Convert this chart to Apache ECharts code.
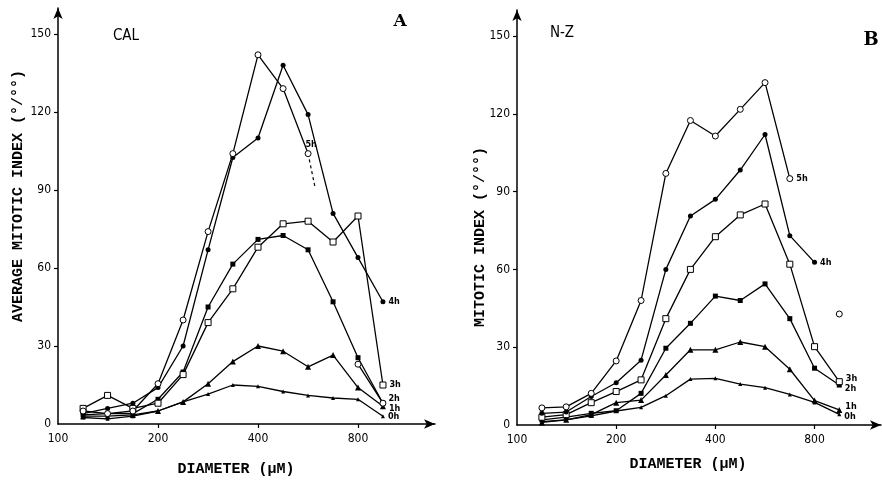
<!DOCTYPE html>
<html>
<head>
<meta charset="utf-8">
<script src="https://cdn.jsdelivr.net/npm/echarts@6/dist/echarts.min.js"></script>
<style>html,body{margin:0;padding:0;background:#fff}#c{width:882px;height:485px}</style>
</head>
<body>
<div id="c"></div>
<script>
// Diameters (µm) of the measured size classes (quarter-doubling steps)
const diameters = [119, 141, 168, 200, 238, 283, 336, 400, 476, 566, 673, 800, 951];
const xTickLabels = [100, 200, 400, 800];
const yTickLabels = [0, 30, 60, 90, 120, 150];

// Panel A : CAL
const calH0 = [2.5, 2, 3, 5, 8.5, 11.5, 15, 14.5, 12.5, 11, 10, 9.5, 3];
const calH1 = [3, 3, 3.5, 5, 8.5, 15.5, 24, 30, 28, 22, 26.5, 14, 6.8];
const calH2 = [3.5, 4, 4, 9.5, 20, 45, 61.5, 71, 72.5, 67, 47, 25.5, 8];
const calH3 = [6, 11, 6, 8, 19, 39, 52, 68, 77, 78, 70, 80, 15];
const calH4 = [4, 6, 8, 14, 30, 67, 102.5, 110, 138, 119, 81, 64, 47];
const calH5 = [5, 4, 5, 15.5, 40, 74, 104, 142, 129, 104, null, 23, 8];
const calH5DashX = [566, 594];
const calH5DashY = [104, 91];

// Panel B : N-Z
const nzH0 = [1.3, 2, 3.5, 5.4, 6.8, 11.3, 17.7, 18, 15.8, 14.4, 11.8, 8.7, 4.1];
const nzH1 = [1, 2, 4, 8.6, 9.6, 19.3, 29, 29, 32, 30.2, 21.5, 9.4, 5.8];
const nzH2 = [2, 3, 4.5, 5.5, 12.2, 29.6, 39.2, 49.7, 48, 54.4, 41, 21.9, 15.4];
const nzH3 = [3, 4, 8.6, 12.9, 17.4, 41, 60, 72.6, 81, 85.2, 62, 30.2, 16.7];
const nzH4 = [4.5, 5, 11, 16.3, 25, 60, 80.6, 87, 98.3, 112, 73, 62.7, null];
const nzH5 = [6.6, 7, 12.2, 24.7, 48, 97, 117.4, 111.4, 121.7, 132, 95, null, 42.8];

const lx = d => Math.log2(d / 100);
const tickFont = "'DejaVu Sans Condensed','Liberation Sans Narrow','Liberation Sans',sans-serif";
const monoFont = "'Liberation Mono','DejaVu Sans Mono',monospace";

function mk(name, gi, vals, symbol, size, lbl) {
  const empty = symbol.indexOf('empty') === 0;
  const data = vals.map((v, i) => {
    const item = { value: [lx(diameters[i]), v == null ? '-' : v] };
    if (lbl && i === lbl.index) {
      item.label = {
        show: true, formatter: name, position: lbl.pos || 'right', distance: 3,
        offset: lbl.offset || [0, 0], color: '#000',
        fontFamily: "'DejaVu Sans Condensed','Liberation Sans Narrow',sans-serif",
        fontWeight: 'bold', fontSize: 9
      };
    }
    return item;
  });
  return {
    type: 'line', name: name, xAxisIndex: gi, yAxisIndex: gi, data: data,
    symbol: empty ? symbol.replace('empty', '').toLowerCase() : symbol,
    symbolSize: size, showAllSymbol: true, connectNulls: false,
    lineStyle: { color: '#000', width: 1.3 },
    itemStyle: empty ? { color: '#fff', borderColor: '#000', borderWidth: 1 } : { color: '#000' },
    label: { show: false }, silent: true, z: 3
  };
}

function xAxis(gi, max) {
  const ticks = xTickLabels.map(lx);
  return {
    type: 'value', gridIndex: gi, min: 0, max: max,
    splitLine: { show: false },
    axisLine: { show: true, onZero: false, symbol: ['none', 'arrow'], symbolSize: [7, 11], lineStyle: { color: '#000', width: 1.5 } },
    axisTick: { show: true, customValues: ticks.slice(1), length: 4, lineStyle: { color: '#000', width: 1.2 } },
    axisLabel: { customValues: ticks, formatter: v => String(Math.round(100 * Math.pow(2, v))), color: '#000', fontFamily: tickFont, fontSize: 12, margin: 9 }
  };
}
function yAxis(gi) {
  return {
    type: 'value', gridIndex: gi, min: 0, max: 160,
    splitLine: { show: false },
    axisLine: { show: true, onZero: false, symbol: ['none', 'arrow'], symbolSize: [7, 11], lineStyle: { color: '#000', width: 1.5 } },
    axisTick: { show: true, customValues: yTickLabels.slice(1), length: 4, lineStyle: { color: '#000', width: 1.2 } },
    axisLabel: { customValues: yTickLabels, color: '#000', fontFamily: tickFont, fontSize: 12, margin: 7 }
  };
}

const dashSeries = {
  type: 'line', xAxisIndex: 0, yAxisIndex: 0, symbol: 'none', silent: true,
  data: calH5DashX.map((d, i) => [lx(d), calH5DashY[i]]),
  lineStyle: { color: '#000', width: 1.2, type: [3, 3] }
};

const option = {
  animation: false,
  backgroundColor: '#fff',
  grid: [
    { left: 58, top: 8, width: 377, height: 416 },
    { left: 517, top: 10, width: 364, height: 415 }
  ],
  xAxis: [xAxis(0, 3.77), xAxis(1, 3.67)],
  yAxis: [yAxis(0), yAxis(1)],
  series: [
    mk('0h', 0, calH0, 'triangle', 4, { index: 12 }),
    mk('1h', 0, calH1, 'triangle', 6, { index: 12, offset: [0, 2] }),
    mk('2h', 0, calH2, 'rect', 5, { index: 12, offset: [0, -5] }),
    mk('3h', 0, calH3, 'emptyRect', 6, { index: 12 }),
    mk('4h', 0, calH4, 'circle', 5, { index: 12 }),
    mk('5h', 0, calH5, 'emptyCircle', 6, { index: 9, pos: 'top', offset: [3, 2] }),
    dashSeries,
    mk('0h', 1, nzH0, 'triangle', 4, { index: 12, offset: [0, 2] }),
    mk('1h', 1, nzH1, 'triangle', 6, { index: 12, offset: [0, -3] }),
    mk('2h', 1, nzH2, 'rect', 5, { index: 12, offset: [0, 4] }),
    mk('3h', 1, nzH3, 'emptyRect', 6, { index: 12, offset: [0, -3] }),
    mk('4h', 1, nzH4, 'circle', 5, { index: 11 }),
    mk('5h', 1, nzH5, 'emptyCircle', 6, { index: 10 })
  ],
  graphic: [
    { type: 'text', x: 18, y: 196, rotation: Math.PI / 2, style: { text: 'AVERAGE MITOTIC INDEX (°/°°)', font: 'bold 15px ' + monoFont, fill: '#000', textAlign: 'center', textVerticalAlign: 'middle' } },
    { type: 'text', x: 480, y: 237, rotation: Math.PI / 2, style: { text: 'MITOTIC INDEX (°/°°)', font: 'bold 15px ' + monoFont, fill: '#000', textAlign: 'center', textVerticalAlign: 'middle' } },
    { type: 'text', x: 236, y: 469, style: { text: 'DIAMETER (μM)', font: 'bold 15px ' + monoFont, fill: '#000', textAlign: 'center', textVerticalAlign: 'middle' } },
    { type: 'text', x: 688, y: 464, style: { text: 'DIAMETER (μM)', font: 'bold 15px ' + monoFont, fill: '#000', textAlign: 'center', textVerticalAlign: 'middle' } },
    { type: 'text', x: 126, y: 36, style: { text: 'CAL', font: '15px ' + tickFont, fill: '#000', textAlign: 'center', textVerticalAlign: 'middle' } },
    { type: 'text', x: 562, y: 33, style: { text: 'N-Z', font: '15px ' + tickFont, fill: '#000', textAlign: 'center', textVerticalAlign: 'middle' } },
    { type: 'text', x: 400, y: 22, style: { text: 'A', font: "bold 17px 'DejaVu Serif','Liberation Serif',serif", fill: '#000', textAlign: 'center', textVerticalAlign: 'middle' } },
    { type: 'text', x: 871, y: 40, style: { text: 'B', font: "bold 18px 'DejaVu Serif','Liberation Serif',serif", fill: '#000', textAlign: 'center', textVerticalAlign: 'middle' } }
  ]
};

echarts.init(document.getElementById('c'), null, { renderer: 'canvas' }).setOption(option);
</script>
</body>
</html>
